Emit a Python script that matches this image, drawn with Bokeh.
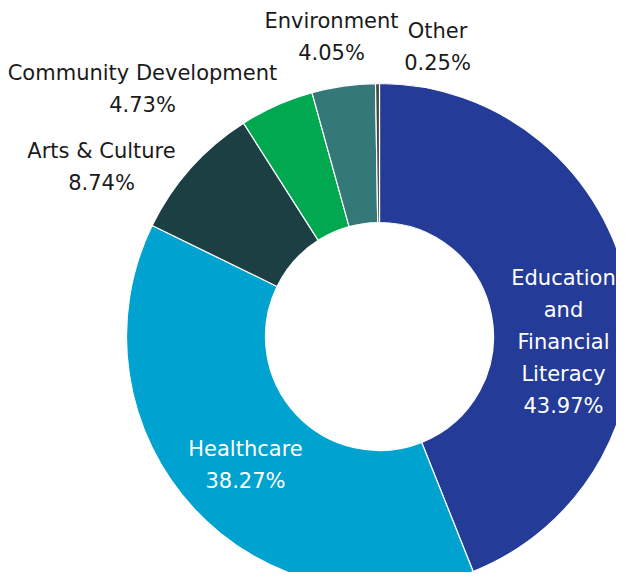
import math
from bokeh.plotting import figure
from bokeh.models import Range1d, ColumnDataSource
from bokeh.core.properties import value
from bokeh.embed import file_html
from bokeh.resources import INLINE

# ---- data ----
categories = ["Education and Financial Literacy", "Healthcare", "Arts & Culture",
              "Community Development", "Environment", "Other"]
shares = [43.97, 38.27, 8.74, 4.73, 4.05, 0.25]
colors = ["#243b97", "#00a3cf", "#1b3f42", "#00a84f", "#347977", "#444444"]
label_lines = [["Education", "and", "Financial", "Literacy"], ["Healthcare"],
               ["Arts & Culture"], ["Community Development"], ["Environment"], ["Other"]]

# ---- layout (screen pixel coords of the reference, y down) ----
W, H = 616, 572
cx, cy = 379, 336
r_out, r_in = 253, 114
label_pos = [(563, 277), (245, 448), (101, 150), (142, 72), (331, 20), (437, 30)]
label_col = ["white", "white", "#1a1a1a", "#1a1a1a", "#1a1a1a", "#1a1a1a"]
line_gap = 32


def Y(y):
    return H - y


total = sum(shares)
starts, ends = [], []
cum = 0.0
for s in shares:
    starts.append(math.pi / 2 - 2 * math.pi * cum / total)
    cum += s
    ends.append(math.pi / 2 - 2 * math.pi * cum / total)

src = ColumnDataSource(dict(x=[cx] * len(shares), y=[Y(cy)] * len(shares),
                            start=starts, end=ends, color=colors))

p = figure(width=W, height=H, output_backend="svg", toolbar_location=None,
           x_range=Range1d(0, W), y_range=Range1d(0, H),
           min_border=0, outline_line_color=None)
p.axis.visible = False
p.grid.visible = False
p.background_fill_color = "white"
p.border_fill_color = "white"

p.annular_wedge(x="x", y="y", inner_radius=r_in, outer_radius=r_out,
                start_angle="start", end_angle="end", direction="clock",
                fill_color="color", line_color="white", line_width=1.2, source=src)

tx, ty, tt, tc = [], [], [], []
for lines, (lx, ly), col, s in zip(label_lines, label_pos, label_col, shares):
    allines = lines + ["%.2f%%" % s]
    for i, t in enumerate(allines):
        tx.append(lx)
        ty.append(Y(ly + i * line_gap))
        tt.append(t)
        tc.append(col)

p.text(x=tx, y=ty, text=tt, text_color=tc, text_align="center",
       text_baseline="middle", text_font=value("DejaVu Sans"), text_font_size="21px")

open("out.html", "w").write(file_html(p, INLINE))
